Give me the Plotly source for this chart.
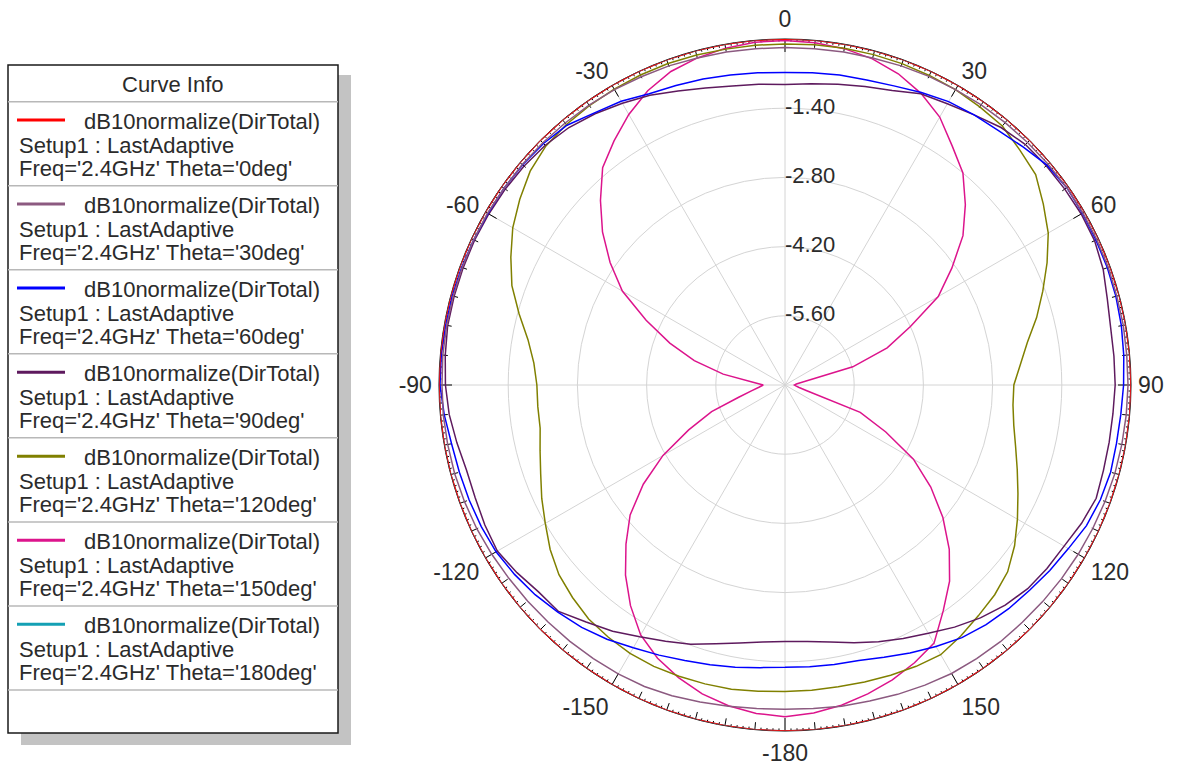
import plotly.graph_objects as go

# Far-field cuts: phi sweep in 5 degree steps
PHI = list(range(-180, 181, 5))

THETA_0 = [
    0.0, 0.0, 0.0, 0.0, 0.0, 0.0, 0.0, 0.0, 0.0, 0.0, 0.0, 0.0, 0.0, 0.0, 0.0, 0.0, 0.0, 0.0, 0.0,
    0.0, 0.0, 0.0, 0.0, 0.0, 0.0, 0.0, 0.0, 0.0, 0.0, 0.0, 0.0, 0.0, 0.0, 0.0, 0.0, 0.0, 0.0,
    0.0, 0.0, 0.0, 0.0, 0.0, 0.0, 0.0, 0.0, 0.0, 0.0, 0.0, 0.0, 0.0, 0.0, 0.0, 0.0, 0.0, 0.0,
    0.0, 0.0, 0.0, 0.0, 0.0, 0.0, 0.0, 0.0, 0.0, 0.0, 0.0, 0.0, 0.0, 0.0, 0.0, 0.0, 0.0, 0.0,
]
THETA_30 = [
    -0.44, -0.43, -0.40, -0.36, -0.31, -0.27, -0.25, -0.24, -0.23, -0.22, -0.20, -0.18, -0.15,
    -0.12, -0.10, -0.08, -0.07, -0.06, -0.06, -0.05, -0.05, -0.05, -0.05, -0.05, -0.05, -0.06,
    -0.06, -0.07, -0.08, -0.09, -0.10, -0.12, -0.13, -0.15, -0.16, -0.17, -0.17, -0.17, -0.16,
    -0.15, -0.13, -0.11, -0.10, -0.08, -0.07, -0.06, -0.05, -0.04, -0.04, -0.04, -0.04, -0.05,
    -0.05, -0.06, -0.06, -0.07, -0.08, -0.09, -0.11, -0.13, -0.15, -0.17, -0.19, -0.21, -0.22,
    -0.24, -0.26, -0.30, -0.34, -0.38, -0.40, -0.43, -0.44,
]
THETA_60 = [
    -1.29, -1.26, -1.20, -1.14, -1.07, -0.97, -0.86, -0.72, -0.60, -0.50, -0.40, -0.32, -0.25,
    -0.22, -0.20, -0.18, -0.15, -0.08, -0.02, -0.02, -0.03, -0.03, -0.04, -0.05, -0.06, -0.06,
    -0.07, -0.09, -0.14, -0.28, -0.37, -0.50, -0.55, -0.59, -0.63, -0.66, -0.68, -0.66, -0.63,
    -0.61, -0.56, -0.47, -0.38, -0.33, -0.28, -0.19, -0.08, -0.04, -0.05, -0.06, -0.06, -0.07,
    -0.09, -0.12, -0.15, -0.18, -0.19, -0.18, -0.21, -0.27, -0.38, -0.46, -0.54, -0.60, -0.67,
    -0.76, -0.89, -1.02, -1.14, -1.23, -1.26, -1.28, -1.29,
]
THETA_90 = [
    -1.81, -1.78, -1.70, -1.58, -1.42, -1.28, -1.12, -0.92, -0.74, -0.52, -0.49, -0.38, -0.28,
    -0.30, -0.33, -0.33, -0.26, -0.18, -0.13, -0.10, -0.07, -0.07, -0.07, -0.07, -0.08, -0.09,
    -0.11, -0.14, -0.20, -0.30, -0.42, -0.53, -0.67, -0.78, -0.86, -0.89, -0.92, -0.88, -0.82,
    -0.75, -0.66, -0.50, -0.43, -0.33, -0.20, -0.12, -0.10, -0.09, -0.08, -0.09, -0.15, -0.25,
    -0.31, -0.32, -0.32, -0.34, -0.34, -0.33, -0.30, -0.38, -0.48, -0.53, -0.59, -0.70, -0.85,
    -1.02, -1.20, -1.34, -1.47, -1.60, -1.72, -1.79, -1.81,
]
THETA_120 = [
    -0.80, -0.78, -0.75, -0.74, -0.73, -0.72, -0.73, -0.77, -0.82, -0.92, -1.03, -1.20, -1.40,
    -1.57, -1.74, -1.87, -1.97, -1.98, -1.98, -1.90, -1.72, -1.43, -1.12, -0.88, -0.64, -0.45,
    -0.27, -0.16, -0.12, -0.10, -0.09, -0.08, -0.08, -0.09, -0.10, -0.10, -0.10, -0.09, -0.08,
    -0.08, -0.08, -0.09, -0.10, -0.13, -0.16, -0.28, -0.38, -0.62, -0.85, -1.15, -1.45, -1.73,
    -2.02, -2.22, -2.37, -2.37, -2.30, -2.17, -2.00, -1.80, -1.57, -1.33, -1.12, -1.00, -0.91,
    -0.80, -0.70, -0.72, -0.75, -0.78, -0.80, -0.80, -0.80,
]
THETA_150 = [
    -0.29, -0.33, -0.41, -0.53, -0.70, -0.90, -1.16, -1.55, -1.98, -2.45, -2.91, -3.50, -4.15,
    -4.85, -5.42, -6.02, -6.31, -6.47, -6.56, -6.35, -5.73, -5.10, -4.52, -3.90, -3.20, -2.68,
    -2.18, -1.72, -1.26, -0.97, -0.68, -0.43, -0.25, -0.15, -0.08, -0.04, -0.03, -0.05, -0.09,
    -0.17, -0.30, -0.49, -0.74, -1.10, -1.40, -1.84, -2.30, -2.88, -3.42, -4.20, -4.80, -5.58,
    -6.60, -6.77, -6.81, -6.78, -6.71, -6.53, -5.38, -4.75, -4.00, -3.40, -2.83, -2.30, -1.82,
    -1.42, -0.97, -0.80, -0.65, -0.53, -0.42, -0.34, -0.29,
]
THETA_180 = [
    0.0, 0.0, 0.0, 0.0, 0.0, 0.0, 0.0, 0.0, 0.0, 0.0, 0.0, 0.0, 0.0, 0.0, 0.0, 0.0, 0.0, 0.0, 0.0,
    0.0, 0.0, 0.0, 0.0, 0.0, 0.0, 0.0, 0.0, 0.0, 0.0, 0.0, 0.0, 0.0, 0.0, 0.0, 0.0, 0.0, 0.0,
    0.0, 0.0, 0.0, 0.0, 0.0, 0.0, 0.0, 0.0, 0.0, 0.0, 0.0, 0.0, 0.0, 0.0, 0.0, 0.0, 0.0, 0.0,
    0.0, 0.0, 0.0, 0.0, 0.0, 0.0, 0.0, 0.0, 0.0, 0.0, 0.0, 0.0, 0.0, 0.0, 0.0, 0.0, 0.0, 0.0,
]

THETA_NAMES = ["0deg", "30deg", "60deg", "90deg", "120deg", "150deg", "180deg"]
SERIES = [THETA_0, THETA_30, THETA_60, THETA_90, THETA_120, THETA_150, THETA_180]
COLORS = ["#FF0000", "#8C5A80", "#0000FF", "#5E1A5E", "#808000", "#DC148C", "#14A0B4"]

ANG_TICKVALS = [0, 30, 60, 90, 120, 150, 180, 210, 240, 270, 300, 330]
ANG_TICKTEXT = ["0", "30", "60", "90", "120", "150", "-180", "-150", "-120", "-90", "-60", "-30"]
RAD_TICKVALS = [-5.6, -4.2, -2.8, -1.4]
RAD_TICKTEXT = ["-5.60", "-4.20", "-2.80", "-1.40"]

R_MIN, R_MAX = -7.0, 0.0
W, H = 1178, 767
CX, CY, RAD = 785, 385, 346   # plot centre and outer radius in pixels
FONT = "Arial, Liberation Sans, sans-serif"

fig = go.Figure()

# Tick marks on the outer ring (1 deg minor, 5 deg medium, 30 deg major)
dB_per_px = (R_MAX - R_MIN) / RAD
tick_r, tick_t = [], []
for a in range(0, 360):
    if a % 30 == 0:
        length = 13
    elif a % 5 == 0:
        length = 7.5
    else:
        length = 2.5
    tick_r += [R_MAX, R_MAX - length * dB_per_px, None]
    tick_t += [a, a, None]
fig.add_trace(go.Scatterpolar(r=tick_r, theta=tick_t, mode="lines",
                              line=dict(color="black", width=1), hoverinfo="skip"))

# Curves: theta=180 first so theta=0 lies on top of it
draw_order = [6, 5, 4, 3, 2, 1, 0]
for i in draw_order:
    fig.add_trace(go.Scatterpolar(
        r=SERIES[i], theta=PHI, mode="lines",
        line=dict(color=COLORS[i], width=1.5),
        name="Theta='%s'" % THETA_NAMES[i],
    ))

# Radial scale labels along the 0 deg spoke
fig.add_trace(go.Scatterpolar(
    r=RAD_TICKVALS, theta=[0] * len(RAD_TICKVALS), mode="text",
    text=RAD_TICKTEXT, textposition="middle right",
    textfont=dict(family=FONT, size=22, color="#2b2b2b"), hoverinfo="skip",
))

fig.update_layout(
    width=W, height=H,
    margin=dict(l=0, r=0, t=0, b=0),
    paper_bgcolor="white",
    showlegend=False,
    polar=dict(
        domain=dict(x=[(CX - RAD) / W, (CX + RAD) / W],
                    y=[(H - CY - RAD) / H, (H - CY + RAD) / H]),
        bgcolor="white",
        angularaxis=dict(
            rotation=90, direction="clockwise",
            tickmode="array", tickvals=ANG_TICKVALS, ticktext=ANG_TICKTEXT,
            ticks="outside", ticklen=2, tickcolor="rgba(0,0,0,0)",
            showgrid=True, gridcolor="#d4d4d4", gridwidth=1,
            showline=True, linecolor="black", linewidth=1,
            layer="below traces",
            tickfont=dict(family=FONT, size=23, color="#2b2b2b"),
        ),
        radialaxis=dict(
            range=[R_MIN, R_MAX], tickmode="array", tickvals=RAD_TICKVALS,
            showticklabels=False, ticks="", showline=False,
            gridcolor="#d4d4d4", gridwidth=1, angle=90,
            layer="below traces",
        ),
    ),
)

# ---- Curve Info box ----
def px(x):
    return x / W


def py(y):
    return 1 - y / H


BOX_L, BOX_R, BOX_T, BOX_B = 8, 338, 65, 733
HEADER_SEP = 101.7
ROW0, PITCH = 120, 84.05

shapes = [
    dict(type="rect", xref="paper", yref="paper",
         x0=px(BOX_L + 13), x1=px(BOX_R + 13), y0=py(BOX_T + 10), y1=py(BOX_B + 12),
         fillcolor="#c3c3c3", line=dict(width=0), layer="below"),
    dict(type="rect", xref="paper", yref="paper",
         x0=px(BOX_L), x1=px(BOX_R), y0=py(BOX_T), y1=py(BOX_B),
         fillcolor="white", line=dict(color="#1a1a1a", width=1.5), layer="below"),
    dict(type="line", xref="paper", yref="paper",
         x0=px(BOX_L), x1=px(BOX_R), y0=py(HEADER_SEP), y1=py(HEADER_SEP),
         line=dict(color="#b8b8b8", width=1.5)),
]
annotations = [
    dict(text="Curve Info", x=px(173), y=py(84), xref="paper", yref="paper",
         xanchor="center", yanchor="middle", showarrow=False,
         font=dict(family=FONT, size=22, color="#2b2b2b")),
]
for k, name in enumerate(THETA_NAMES):
    y0 = ROW0 + k * PITCH
    shapes.append(dict(type="line", xref="paper", yref="paper",
                       x0=px(17), x1=px(65), y0=py(y0), y1=py(y0),
                       line=dict(color=COLORS[k], width=3)))
    sep = y0 + 65.7
    shapes.append(dict(type="line", xref="paper", yref="paper",
                       x0=px(BOX_L), x1=px(BOX_R), y0=py(sep), y1=py(sep),
                       line=dict(color="#b8b8b8", width=1.5)))
    rows = [
        ("dB10normalize(DirTotal)", 82, y0 + 1),
        ("Setup1 : LastAdaptive", 17, y0 + 25),
        ("Freq='2.4GHz' Theta='%s'" % name, 17, y0 + 48),
    ]
    for txt, x, y in rows:
        annotations.append(dict(text=txt, x=px(x), y=py(y), xref="paper", yref="paper",
                                xanchor="left", yanchor="middle", showarrow=False,
                                font=dict(family=FONT, size=22, color="#2b2b2b")))

fig.update_layout(shapes=shapes, annotations=annotations)

fig.write_html("out.html")
